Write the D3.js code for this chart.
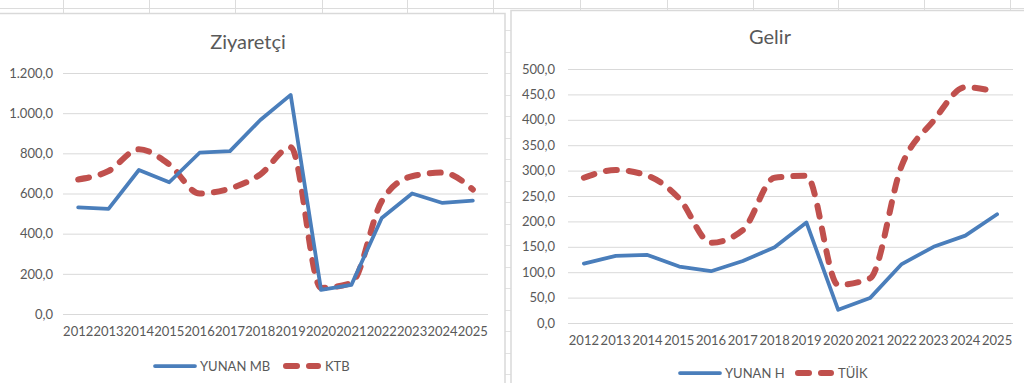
<!DOCTYPE html>
<html><head><meta charset="utf-8">
<script src="https://cdn.jsdelivr.net/npm/d3@7"></script>
<style>html,body{margin:0;padding:0;background:#fff;overflow:hidden}svg{display:block}text{font-family:Lato,"Liberation Sans",sans-serif;fill:#595959}</style>
</head><body><svg id="c" width="1024" height="383"></svg>
<script>
const years = [2012,2013,2014,2015,2016,2017,2018,2019,2020,2021,2022,2023,2024,2025];
const ziyaretciYunanMB = [531,523,717,656,803,811,966,1091,120,145,478,600,553,565];
const ziyaretciKTB = [670,712,820,745,600,625,695,830,130,155,562,686,704,620];
const gelirYunanH = [117,132,134,111,102,122,149,198,26,49,116,150,172,214];
const gelirTUIK = [286,301,290,245,158,183,286,290,75,88,310,398,464,455];
const ziyaretciTicks = [0,200,400,600,800,1000,1200];
const gelirTicks = [0,50,100,150,200,250,300,350,400,450,500];
const titles = ["Ziyaretçi","Gelir"];
const legendNames = [["YUNAN MB","KTB"],["YUNAN H","TÜİK"]];

const svg = d3.select("#c");
const blue = "#4A7EBB", red = "#C0504D", grid = "#d9d9d9";
const loc = d3.formatLocale({decimal:",",thousands:".",grouping:[3],currency:["",""]});
const fmt = loc.format(",.1f");

// spreadsheet background
const bg = svg.append("g");
[63,149,235,322,407,493,580,667,753,838,924,1010].forEach(x=>{
  bg.append("line").attr("x1",x+0.5).attr("x2",x+0.5).attr("y1",0).attr("y2",14).attr("stroke","#dcdcdc");
});
bg.append("line").attr("x1",0).attr("x2",1024).attr("y1",8.5).attr("y2",8.5).attr("stroke","#dcdcdc");
for(let y=30;y<383;y+=21.5){
  bg.append("line").attr("x1",505).attr("x2",511).attr("y1",Math.round(y)+0.5).attr("y2",Math.round(y)+0.5).attr("stroke","#e2e2e2");
}

function chart(cfg){
  const g = svg.append("g");
  g.append("rect").attr("x",cfg.fx).attr("y",cfg.fy).attr("width",cfg.fw).attr("height",cfg.fh)
    .attr("fill","#fff").attr("stroke","#d9d9d9").attr("stroke-width",1.5);
  const x = d3.scaleBand().domain(years).range([cfg.x0,cfg.x1]);
  const y = d3.scaleLinear().domain(cfg.dom).range([cfg.y0,cfg.y1]);
  const ya = g.append("g").attr("transform",`translate(${cfg.x0},0)`)
    .call(d3.axisLeft(y).tickValues(cfg.ticks).tickFormat(fmt).tickSizeInner(-(cfg.x1-cfg.x0)).tickSizeOuter(0).tickPadding(cfg.x0-cfg.labelRight));
  ya.select(".domain").remove();
  ya.selectAll(".tick line").attr("stroke",grid).attr("stroke-width",1);
  ya.selectAll(".tick text").attr("font-size",13).style("fill","#595959").attr("font-family",null);
  const xa = g.append("g").attr("transform",`translate(0,${cfg.y0})`)
    .call(d3.axisBottom(x).tickSize(0).tickPadding(cfg.xlabPad));
  xa.select(".domain").remove();
  xa.selectAll(".tick text").attr("font-size",13).attr("font-family",null).style("fill","#595959");
  g.append("text").attr("x",cfg.tx).attr("y",cfg.ty).attr("text-anchor","middle").attr("font-size",20).text(cfg.title);
  const lineStraight = d3.line().x((d,i)=>x(years[i])+x.bandwidth()/2).y(d=>y(d));
  const lineSmooth = d3.line().x((d,i)=>x(years[i])+x.bandwidth()/2).y(d=>y(d)).curve(d3.curveMonotoneX);
  g.append("path").datum(cfg.s2).attr("d",lineSmooth).attr("fill","none").attr("stroke",red)
    .attr("stroke-width",6).attr("stroke-dasharray","11,12").attr("stroke-linecap","round").attr("stroke-linejoin","round");
  g.append("path").datum(cfg.s1).attr("d",lineStraight).attr("fill","none").attr("stroke",blue)
    .attr("stroke-width",3.75).attr("stroke-linejoin","round").attr("stroke-linecap","round");
  // legend
  const L = cfg.leg;
  g.append("line").attr("x1",L.b1).attr("x2",L.b2).attr("y1",L.y).attr("y2",L.y).attr("stroke",blue).attr("stroke-width",3.75).attr("stroke-linecap","round");
  g.append("text").attr("x",L.b2+5).attr("y",L.y+5).attr("font-size",13).text(cfg.names[0]);
  g.append("line").attr("x1",L.r1).attr("x2",L.r2).attr("y1",L.y).attr("y2",L.y).attr("stroke",red).attr("stroke-width",6)
    .attr("stroke-dasharray","11,12").attr("stroke-linecap","round");
  g.append("text").attr("x",L.r2+7).attr("y",L.y+5).attr("font-size",13).text(cfg.names[1]);
}

chart({fx:-5,fy:13.5,fw:510,fh:380,x0:63,x1:488,y0:314,y1:73,dom:[0,1200],ticks:ziyaretciTicks,labelRight:53,
  xlabPad:13,tx:248,ty:49,title:titles[0],s1:ziyaretciYunanMB,s2:ziyaretciKTB,names:legendNames[0],
  leg:{y:366,b1:155,b2:195,r1:286,r2:318}});
chart({fx:511,fy:10.5,fw:520,fh:380,x0:568,x1:1013,y0:323,y1:69,dom:[0,500],ticks:gelirTicks,labelRight:555,
  xlabPad:13,tx:770,ty:44,title:titles[1],s1:gelirYunanH,s2:gelirTUIK,names:legendNames[1],
  leg:{y:373,b1:680,b2:720,r1:798,r2:831}});
</script></body></html>
